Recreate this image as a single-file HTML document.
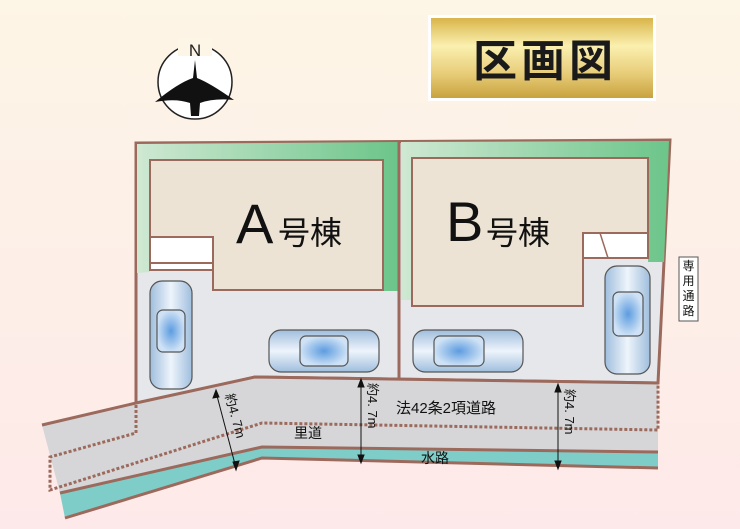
<!DOCTYPE html>
<html><head><meta charset="utf-8"><style>
html,body{margin:0;padding:0;}
body{width:740px;height:529px;overflow:hidden;background:linear-gradient(#fdf5e6,#fde9e9);}
svg{display:block}
text{font-family:"Liberation Sans","Noto Sans CJK JP",sans-serif;}
</style></head><body>
<svg width="740" height="529" viewBox="0 0 740 529" xmlns="http://www.w3.org/2000/svg">
<defs>
<linearGradient id="gold" x1="0" y1="0" x2="0" y2="1">
<stop offset="0" stop-color="#d9b54a"/><stop offset="0.35" stop-color="#fbf0b0"/><stop offset="0.7" stop-color="#e7cc78"/><stop offset="1" stop-color="#c9a23e"/></linearGradient>
<linearGradient id="carv" x1="0" y1="0" x2="1" y2="0">
<stop offset="0" stop-color="#9fbedd"/><stop offset="0.5" stop-color="#eef4fb"/><stop offset="1" stop-color="#9fbedd"/></linearGradient>
<linearGradient id="carh" x1="0" y1="0" x2="0" y2="1">
<stop offset="0" stop-color="#9fbedd"/><stop offset="0.5" stop-color="#eef4fb"/><stop offset="1" stop-color="#9fbedd"/></linearGradient>
<radialGradient id="glass"><stop offset="0" stop-color="#5d9ce0"/><stop offset="1" stop-color="#cfe2f5"/></radialGradient>
<linearGradient id="grn" x1="0" y1="0" x2="1" y2="0"><stop offset="0" stop-color="#cfe8d2"/><stop offset="1" stop-color="#6cc58a"/></linearGradient>
</defs>

<rect x="428" y="15" width="228" height="86" fill="#fff"/>
<rect x="431" y="18" width="222" height="80" fill="url(#gold)"/>
<text x="545" y="76" text-anchor="middle" font-size="44" font-weight="bold" letter-spacing="4" font-family="'Noto Serif CJK SC','Liberation Serif',serif" fill="#1a1a1a">区画図</text>

<circle cx="195" cy="82" r="37" fill="#fff" stroke="#222" stroke-width="1.5"/>
<rect x="178" y="38" width="34" height="18" fill="#fdf5e6"/>
<text x="195" y="56" text-anchor="middle" font-size="17" fill="#222">N</text>
<path d="M195 60 L197 78 Q210 83 234 100 Q214 98 200 103 L199 116 L191 116 L190 103 Q176 98 155 102 Q178 83 193 78 Z" fill="#111"/>

<polygon points="136,143 670,140 658,383 255,377 136,405" fill="#e6e7ea" stroke="#9c6a5d" stroke-width="3"/>
<polygon points="137,144 398,142 398,291 383,291 383,160 150,160 150,272 137,273" fill="url(#grn)"/>
<polygon points="401,142 669,141 664,262 648,262 648,157 412,157 412,300 401,300" fill="url(#grn)"/>
<line x1="399" y1="141" x2="399" y2="379" stroke="#9c6a5d" stroke-width="3"/>

<polygon points="150,160 383,160 383,290 213,290 213,237 150,237" fill="#ede3d5" stroke="#9c6a5d" stroke-width="2"/>
<rect x="150" y="237" width="63" height="33" fill="#fff" stroke="#9c6a5d" stroke-width="2"/>
<line x1="150" y1="263" x2="213" y2="263" stroke="#9c6a5d" stroke-width="2"/>
<polygon points="412,158 648,158 648,233 583,233 583,306 412,306" fill="#ede3d5" stroke="#9c6a5d" stroke-width="2"/>
<rect x="583" y="233" width="65" height="25" fill="#fff" stroke="#9c6a5d" stroke-width="2"/>
<line x1="600" y1="233" x2="608" y2="258" stroke="#9c6a5d" stroke-width="1.5"/>
<text x="236" y="243" font-size="56" fill="#111">A</text>
<text x="278" y="244" font-size="32" fill="#111">号棟</text>
<text x="446" y="241" font-size="56" fill="#111">B</text>
<text x="486" y="244" font-size="32" fill="#111">号棟</text>

<g stroke="#555" stroke-width="1.2">
<rect x="150" y="281" width="42" height="108" rx="12" fill="url(#carv)"/>
<rect x="157" y="310" width="28" height="42" rx="6" fill="url(#glass)"/>
<rect x="605" y="266" width="45" height="108" rx="12" fill="url(#carv)"/>
<rect x="613" y="292" width="30" height="44" rx="6" fill="url(#glass)"/>
<rect x="269" y="330" width="110" height="42" rx="12" fill="url(#carh)"/>
<rect x="300" y="336" width="48" height="30" rx="6" fill="url(#glass)"/>
<rect x="413" y="330" width="110" height="42" rx="12" fill="url(#carh)"/>
<rect x="434" y="336" width="50" height="30" rx="6" fill="url(#glass)"/>
</g>

<polygon points="42,425 136,403 255,377 658,383 658,452 262,447 60,493" fill="#d6d6d8"/>
<polygon points="60,493 262,447 658,452 658,468 262,458 65,518" fill="#7fcdc8"/>
<polyline points="42,425 136,403 255,377 658,383" fill="none" stroke="#9c6a5d" stroke-width="3"/>
<polyline points="60,493 262,447 658,452" fill="none" stroke="#9c6a5d" stroke-width="3"/>
<polyline points="65,518 262,458 658,468" fill="none" stroke="#9c6a5d" stroke-width="3"/>
<g fill="none" stroke="#9c6a5d" stroke-width="3" stroke-dasharray="3,2">
<polyline points="136,405 136,433 50,457 50,490 262,423 658,430 658,383"/>
</g>

<g stroke="#111" stroke-width="1" fill="#111">
<line x1="216" y1="392" x2="236" y2="468"/>
<polygon points="216,390 213,398 219,397"/><polygon points="236,470 233,462 239,461"/>
<line x1="361" y1="381" x2="361" y2="461"/>
<polygon points="361,379 358,387 364,387"/><polygon points="361,463 358,455 364,455"/>
<line x1="558" y1="386" x2="558" y2="467"/>
<polygon points="558,384 555,392 561,392"/><polygon points="558,469 555,461 561,461"/>
</g>
<text transform="translate(225,395) rotate(75)" font-size="13" fill="#111">約4. 7m</text>
<text transform="translate(368,383) rotate(90)" font-size="13" fill="#111">約4. 7m</text>
<text transform="translate(565,389) rotate(90)" font-size="13" fill="#111">約4. 7m</text>
<text x="446" y="413" font-size="15" fill="#111" text-anchor="middle">法42条2項道路</text>
<text x="308" y="438" font-size="14" fill="#111" text-anchor="middle">里道</text>
<text x="435" y="463" font-size="14" fill="#111" text-anchor="middle">水路</text>

<rect x="679" y="257" width="19" height="64" fill="#fff" stroke="#555" stroke-width="1"/>
<text x="688.5" y="270" font-size="12" fill="#111" text-anchor="middle">専</text>
<text x="688.5" y="285" font-size="12" fill="#111" text-anchor="middle">用</text>
<text x="688.5" y="300" font-size="12" fill="#111" text-anchor="middle">通</text>
<text x="688.5" y="315" font-size="12" fill="#111" text-anchor="middle">路</text>
</svg>
</body></html>
